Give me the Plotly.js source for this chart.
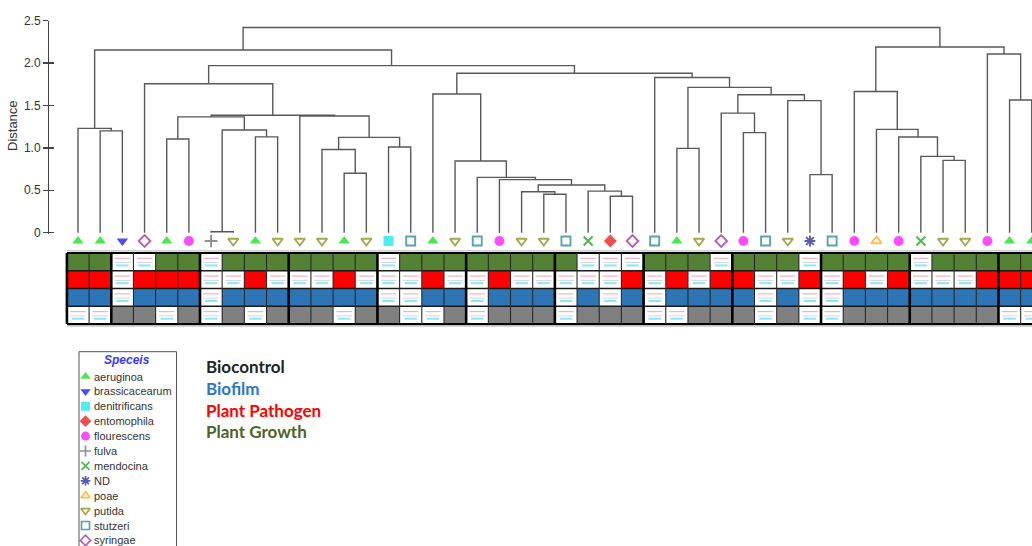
<!DOCTYPE html>
<html><head><meta charset="utf-8">
<script src="https://cdn.plot.ly/plotly-3.0.1.min.js"></script>
<style>html,body{margin:0;padding:0;background:#fff;} #chart{width:1032px;height:546px;}</style>
</head><body><div id="chart"></div>
<script>
// ---------------- data ----------------
const leafSpecies = ['aeruginoa','aeruginoa','brassicacearum','syringae','aeruginoa','flourescens','fulva','putida',
  'aeruginoa','putida','putida','putida','aeruginoa','putida','denitrificans','stutzeri','aeruginoa','putida',
  'stutzeri','flourescens','putida','putida','stutzeri','mendocina','entomophila','syringae','stutzeri','aeruginoa',
  'putida','syringae','flourescens','stutzeri','putida','ND','stutzeri','flourescens','poae','flourescens',
  'mendocina','putida','putida','flourescens','aeruginoa','aeruginoa'];

// linkage: node ids >= 44 refer to merge (id-44)
const mergeLeft   = [1, 0, 6, 8,46, 4,49,12,11,14,52,10,50, 3,21,20,24,23,59,19,18,17,16,27,30,29,33,32,69,67,26,66,57,45,39,38,37,36,35,42,41,82,77];
const mergeRight  = [2,44, 7, 9,47, 5,48,13,51,15,53,54,55,56,22,58,25,60,61,62,63,64,65,28,31,68,34,70,71,72,73,74,75,76,40,78,79,80,81,43,83,84,85];
const mergeHeight = [1.20,1.23,0.01,1.13,1.21,1.105,1.365,0.70,0.98,1.01,1.124,1.376,1.385,1.757,0.452,0.483,0.43,0.49,
  0.562,0.625,0.652,0.845,1.635,0.994,1.18,1.41,0.684,1.557,1.627,1.713,1.83,1.88,1.97,2.155,0.853,0.90,1.128,1.218,
  1.665,1.565,2.107,2.19,2.42];

const plantGrowth   = [1,1,0,0,1,1,0,1,1,1,1,1,1,1,0, 1,1,1,1,1,1,1,1,0,0,0,1,1,1, 0,1,1,1,0,1,1,1,1,0,1,1,1,1,1];
const plantPathogen = [1,1,0,1,1,1,0,0,1,0,0,0,1,0,0, 0,1,0,0,1,0,0,0,0,0,1,0,1,0, 1,1,0,0,1,0,1,0,1,0,0,0,1,1,1];
const biofilm       = [1,1,0,1,1,1,0,1,1,1,1,1,1,1,0, 0,1,1,0,1,1,1,0,1,0,1,0,1,1, 1,1,0,1,0,0,1,1,1,1,1,1,1,1,1];
const biocontrol    = [0,0,1,1,0,1,0,1,0,1,1,1,0,1,1, 0,0,1,0,1,1,1,0,1,1,1,0,0,1, 1,1,0,1,0,0,1,1,1,1,1,1,1,0,0];

const speciesNames = ['aeruginoa','brassicacearum','denitrificans','entomophila','flourescens','fulva','mendocina','ND','poae','putida','stutzeri','syringae'];
const traitLabels = ['Biocontrol','Biofilm','Plant Pathogen','Plant Growth'];
const legendTitle = 'Speceis';
const axisTitle = 'Distance';
const axisTickVals = [0,0.5,1,1.5,2,2.5];
const axisTickText = ['0','0.5','1.0','1.5','2.0','2.5'];

// ---------------- styles ----------------
const speciesStyle = {
  aeruginoa:{symbol:'triangle-up',color:'#00dd00',open:false},
  brassicacearum:{symbol:'triangle-down',color:'#0000ee',open:false},
  denitrificans:{symbol:'square',color:'#00e5ee',open:false},
  entomophila:{symbol:'diamond',color:'#ee0000',open:false},
  flourescens:{symbol:'circle',color:'#ff00ff',open:false},
  fulva:{symbol:'cross-thin-open',color:'#606060',open:true},
  mendocina:{symbol:'x-thin-open',color:'#009a00',open:true},
  ND:{symbol:'asterisk-open',color:'#14148a',open:true},
  poae:{symbol:'triangle-up-open',color:'#ffa000',open:true},
  putida:{symbol:'triangle-down-open',color:'#808000',open:true},
  stutzeri:{symbol:'square-open',color:'#0f8080',open:true},
  syringae:{symbol:'diamond-open',color:'#9a189a',open:true}
};
const traitColors = ['#222222','#2e75c6','#ff0000','#4f6228'];
const cellColors = {green:'#548235', red:'#ff0000', blue:'#2e75b6', gray:'#808080'};
const FONT = 'Liberation Sans, Arial, sans-serif';

// ---------------- geometry ----------------
const W = 1032, H = 546;
const leafPx0 = 78, leafStep = 22.18;
const xr0 = -leafPx0/leafStep, xr1 = xr0 + W/leafStep;
const dendTopPx = 20.7, dendBotPx = 234;
const rowPx0 = 261.9, rowStep = 17.75;
const y2top = (dendBotPx-rowPx0)/rowStep, y2bot = (H-rowPx0)/rowStep;
const markerRow = (241-rowPx0)/rowStep;

// dendrogram segments
const n = leafSpecies.length;
const pos = [], hgt = [];
for (let i=0;i<n;i++){pos[i]=i;hgt[i]=0;}
const dx=[], dy=[];
mergeLeft.forEach((a,k)=>{
  const b = mergeRight[k], h = mergeHeight[k], id = n+k;
  pos[id] = (pos[a]+pos[b])/2; hgt[id] = h;
  dx.push(pos[a],pos[a],pos[b],pos[b],null);
  dy.push(hgt[a],h,h,hgt[b],null);
});

const traces = [];
traces.push({type:'scatter',mode:'lines',x:dx,y:dy,xaxis:'x',yaxis:'y',
  line:{color:'#585858',width:1.4},hoverinfo:'skip'});
traces.push({type:'scatter',mode:'markers',x:[0],y:[1],xaxis:'x',yaxis:'y4',marker:{opacity:0},hoverinfo:'skip'});

// grid heatmap
const gridRows = [plantGrowth, plantPathogen, biofilm, biocontrol];
const z = gridRows.map((row,r)=>row.map(v=>v?(r+1):0));
const leafIdx = leafSpecies.map((_,i)=>i);
traces.push({type:'heatmap',z:z,x:leafIdx,y:[0,1,2,3],xaxis:'x',yaxis:'y2',zmin:0,zmax:4,showscale:false,hoverinfo:'skip',
  colorscale:[[0,'#ffffff'],[0.125,'#ffffff'],[0.125,cellColors.green],[0.375,cellColors.green],[0.375,cellColors.red],
  [0.625,cellColors.red],[0.625,cellColors.blue],[0.875,cellColors.blue],[0.875,cellColors.gray],[1,cellColors.gray]]});

// placeholder icons in empty cells
const ix=[], iy=[];
gridRows.forEach((row,r)=>row.forEach((v,c)=>{ if(!v){ix.push(c);iy.push(r);} }));
traces.push({type:'scatter',mode:'markers',x:ix,y:iy.map(v=>v-0.2),xaxis:'x',yaxis:'y2',hoverinfo:'skip',
  marker:{symbol:'line-ew-open',size:11,color:'#f4b0bd',line:{width:1.2,color:'#f4b0bd'}}});
traces.push({type:'scatter',mode:'markers',x:ix,y:iy.map(v=>v+0.04),xaxis:'x',yaxis:'y2',hoverinfo:'skip',
  marker:{symbol:'line-ew-open',size:11,color:'#c9d6f0',line:{width:1,color:'#c9d6f0'}}});
traces.push({type:'scatter',mode:'markers',x:ix,y:iy.map(v=>v+0.2),xaxis:'x',yaxis:'y2',hoverinfo:'skip',
  marker:{symbol:'line-ew-open',size:9,color:'#8fe6f2',line:{width:2,color:'#8fe6f2'}}});

// leaf markers
const lsym = leafSpecies.map(s=>speciesStyle[s].symbol);
const lcol = leafSpecies.map(s=>speciesStyle[s].color);
const lw = leafSpecies.map(s=>speciesStyle[s].open?1.9:0);
const lsz = leafSpecies.map(s=>speciesStyle[s].open?9:10);
traces.push({type:'scatter',mode:'markers',x:leafIdx,y:leafIdx.map(()=>markerRow),xaxis:'x',yaxis:'y2',cliponaxis:false,hoverinfo:'skip',
  marker:{symbol:lsym,color:lcol,size:lsz,line:{width:lw,color:lcol}}});

// legend (pixel-positioned axes x2/y3)
const legX = 85.5, legY0 = 376.5, legStep = 14.9;
traces.push({type:'scatter',mode:'markers',xaxis:'x2',yaxis:'y3',cliponaxis:false,hoverinfo:'skip',
  x:speciesNames.map(()=>legX), y:speciesNames.map((_,i)=>legY0+i*legStep),
  marker:{symbol:speciesNames.map(s=>speciesStyle[s].symbol),color:speciesNames.map(s=>speciesStyle[s].color),
    size:speciesNames.map(s=>speciesStyle[s].open?8:9),
    line:{width:speciesNames.map(s=>speciesStyle[s].open?1.7:0),color:speciesNames.map(s=>speciesStyle[s].color)}}});

const annotations = [];
speciesNames.forEach((s,i)=>annotations.push({xref:'x2',yref:'y3',x:92,y:legY0+i*legStep,text:s,showarrow:false,
  xanchor:'left',yanchor:'middle',font:{family:FONT,size:11,color:'#333'}}));
annotations.push({xref:'x2',yref:'y3',x:127,y:360,text:'<b><i>'+legendTitle+'</i></b>',showarrow:false,
  xanchor:'center',yanchor:'middle',font:{family:FONT,size:12,color:'#3a3aff'}});
traitLabels.forEach((t,i)=>annotations.push({xref:'x2',yref:'y3',x:204,y:366.7+i*21.7,text:'<b>'+t+'</b>',showarrow:false,
  xanchor:'left',yanchor:'middle',font:{family:'Lato, Open Sans, sans-serif',size:17,color:traitColors[i]}}));
annotations.push({xref:'paper',yref:'paper',x:13/W,y:(H-126)/H,text:axisTitle,textangle:-90,showarrow:false,
  xanchor:'center',yanchor:'middle',font:{family:FONT,size:13,color:'#333'}});

// grid lines
const shapes = [];
const nr = gridRows.length;
for (let r=0;r<=nr;r++){
  const outer = (r===0||r===nr);
  shapes.push({type:'line',xref:'x',yref:'y2',x0:-0.5,x1:n-0.5,y0:r-0.5,y1:r-0.5,layer:'above',
    line:{color:outer?'#000':'#1a1a1a',width:outer?2.2:1.3}});
}
for (let c=0;c<=n;c++){
  const thick = (c===0 || (c>=2 && (c-2)%4===0) || c===n);
  shapes.push({type:'line',xref:'x',yref:'y2',x0:c-0.5,x1:c-0.5,y0:-0.5,y1:nr-0.5,layer:'above',
    line:{color:thick?'#000':'#2a2a2a',width:thick?2.6:1.1}});
}
shapes.push({type:'line',xref:'x',yref:'y2',x0:-0.5,x1:n-0.5,y0:-0.62,y1:-0.62,layer:'above',line:{color:'#b0b0b0',width:1}});
shapes.push({type:'line',xref:'x',yref:'y2',x0:-0.5,x1:n-0.5,y0:nr-0.38,y1:nr-0.38,layer:'above',line:{color:'#c0c0c0',width:1}});
shapes.push({type:'rect',xref:'x2',yref:'y3',x0:79,x1:176.5,y0:351.7,y1:560,line:{color:'#555',width:1},fillcolor:'rgba(0,0,0,0)'});

const layout = {
  width:W,height:H,margin:{l:0,r:0,t:0,b:0},paper_bgcolor:'#fff',plot_bgcolor:'rgba(0,0,0,0)',showlegend:false,
  xaxis:{domain:[0,1],range:[xr0,xr1],visible:false,anchor:'y2',fixedrange:true},
  yaxis:{domain:[(H-dendBotPx)/H,(H-dendTopPx)/H],range:[-0.016,2.5],anchor:'free',position:48/W,
    showline:true,linecolor:'#444',linewidth:1.3,ticks:'outside',ticklen:5,tickwidth:1.3,tickcolor:'#444',
    tickvals:axisTickVals,ticktext:axisTickText,tickfont:{family:FONT,size:12,color:'#333'},
    showgrid:false,zeroline:false,fixedrange:true},
  yaxis4:{overlaying:'y',range:[-0.016,2.5],anchor:'free',position:48/W,showline:false,ticks:'inside',ticklen:5,
    tickwidth:1.3,tickcolor:'#444',tickvals:axisTickVals,showticklabels:false,showgrid:false,zeroline:false,fixedrange:true},
  yaxis2:{domain:[0,(H-dendBotPx)/H],range:[y2bot,y2top],visible:false,anchor:'x',fixedrange:true},
  xaxis2:{domain:[0,1],range:[0,W],visible:false,anchor:'y3',fixedrange:true},
  yaxis3:{domain:[0,1],range:[H,0],visible:false,anchor:'x2',fixedrange:true},
  annotations:annotations,shapes:shapes
};
Plotly.newPlot('chart',traces,layout,{displayModeBar:false,staticPlot:true});
</script></body></html>
